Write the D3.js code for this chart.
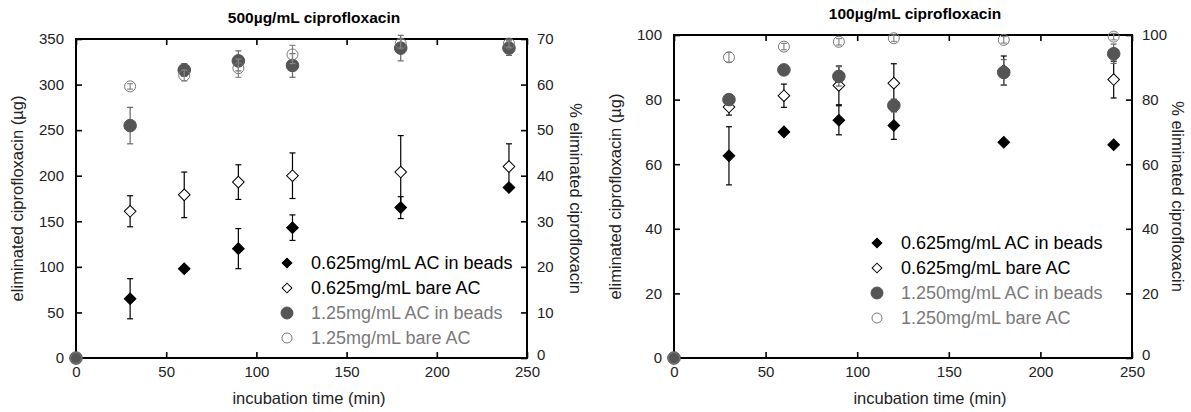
<!DOCTYPE html>
<html>
<head>
<meta charset="utf-8">
<script src="https://cdn.jsdelivr.net/npm/d3@7"></script>
<style>
  body { margin: 0; background: #fff; }
  text { font-family: "Liberation Sans", Arial, sans-serif; }
</style>
</head>
<body>
<svg width="1191" height="412"></svg>
<script>
// Sampling times (min)
const times = [0, 30, 60, 90, 120, 180, 240];
const xTicks = [0, 50, 100, 150, 200, 250];

// 500 µg/mL ciprofloxacin (eliminated, µg)
const beads625_500 = [0, 65, 98, 120, 143, 165, 187];
const beads625_500Err = [0, 22, 2, 22, 14, 12, 3];
const bare625_500 = [0, 161, 179, 193, 200, 204, 210];
const bare625_500Err = [0, 17, 25, 19, 25, 40, 25];
const beads125_500 = [0, 255, 316, 326, 321, 340, 340];
const beads125_500Err = [0, 20, 7, 11, 13, 14, 8];
const bare125_500 = [0, 298, 310, 318, 333, 345, 345];
const bare125_500Err = [0, 3, 6, 10, 10, 5, 4];
const yTicks500 = [0, 50, 100, 150, 200, 250, 300, 350];
const pctTicks500 = [0, 10, 20, 30, 40, 50, 60, 70];

// 100 µg/mL ciprofloxacin (eliminated, µg)
const beads625_100 = [0, 62.6, 70, 73.6, 72, 66.8, 66];
const beads625_100Err = [0, 9, 0.5, 4.5, 4.3, 0.5, 0.5];
const bare625_100 = [0, 77.7, 81.2, 84.4, 85.1, 89, 86.2];
const bare625_100Err = [0, 2.5, 3.6, 6, 6, 4.5, 5.7];
const beads125_100 = [0, 80, 89.2, 87.2, 78.2, 88.4, 94.2];
const beads125_100Err = [0, 1, 0.5, 3, 2, 4, 3];
const bare125_100 = [0, 93.1, 96.4, 97.9, 99, 98.5, 99.5];
const bare125_100Err = [0, 1.5, 1, 1, 1, 1, 1];
const yTicks100 = [0, 20, 40, 60, 80, 100];
const pctTicks100 = [0, 20, 40, 60, 80, 100];

const labels500 = ["0.625mg/mL AC in beads", "0.625mg/mL bare AC", "1.25mg/mL AC in beads", "1.25mg/mL bare AC"];
const labels100 = ["0.625mg/mL AC in beads", "0.625mg/mL bare AC", "1.250mg/mL AC in beads", "1.250mg/mL bare AC"];

// marker styles: filled diamond, open diamond, filled circle, open circle
const styles = [
    {shape: "diamond", fill: "#000", stroke: "#000", err: "#000", text: "#000"},
    {shape: "diamond", fill: "#fff", stroke: "#000", err: "#000", text: "#000"},
    {shape: "circle", fill: "#555", stroke: "#555", err: "#666", text: "#7a7a7a"},
    {shape: "circle", fill: "none", stroke: "#777", err: "#888", text: "#7a7a7a"}
];

const svg = d3.select("svg");

function marker(sel, st, big) {
    if (st.shape == "diamond") {
        sel.append("path")
           .attr("d", d3.symbol(d3.symbolSquare, big ? 68 : 48)())
           .attr("transform", "rotate(45)")
           .attr("fill", st.fill)
           .attr("stroke", st.stroke)
           .attr("stroke-width", 1);
    } else {
        sel.append("circle")
           .attr("r", st.fill == "none" ? (big ? 5.5 : 5) : (big ? 6.3 : 6))
           .attr("fill", st.fill)
           .attr("stroke", st.stroke)
           .attr("stroke-width", 1);
    }
}

function drawPanel(p) {
    const x = d3.scaleLinear().domain([0, 250]).range([p.left, p.right]);
    const y = d3.scaleLinear().domain([0, p.yMax]).range([p.bottom, p.top]);
    const y2 = d3.scaleLinear().domain([0, p.pctMax]).range([p.bottom, p.top]);
    const g = svg.append("g");

    // axes with inside ticks
    const ax = (sel) => sel.call(s => s.select(".domain").remove())
                           .call(s => s.selectAll("line").attr("stroke", "#000").attr("stroke-width", 1.6))
                           .call(s => s.selectAll("text").attr("fill", "#222").style("font-size", "15px")
                                       .style("font-family", "'Liberation Sans', Arial, sans-serif"));
    g.append("g").attr("transform", `translate(0,${p.bottom})`)
     .call(d3.axisBottom(x).tickValues(xTicks).tickSizeInner(-6).tickSizeOuter(0).tickPadding(8)).call(ax);
    g.append("g").attr("transform", `translate(0,${p.top})`)
     .call(d3.axisTop(x).tickValues(xTicks).tickSizeInner(-6).tickSizeOuter(0).tickFormat("")).call(ax);
    g.append("g").attr("transform", `translate(${p.left},0)`)
     .call(d3.axisLeft(y).tickValues(p.yTicks).tickSizeInner(-6).tickSizeOuter(0).tickPadding(12)).call(ax);
    g.append("g").attr("transform", `translate(${p.right},0)`)
     .call(d3.axisRight(y2).tickValues(p.pctTicks).tickSizeInner(-6).tickSizeOuter(0).tickPadding(10)).call(ax)
     .call(s => s.selectAll("text").attr("dy", d => d == 0 ? "0.1em" : "0.32em"));

    g.append("rect")
     .attr("x", p.left).attr("y", p.top)
     .attr("width", p.right - p.left).attr("height", p.bottom - p.top)
     .attr("fill", "none").attr("stroke", "#000").attr("stroke-width", 2);

    // series: error bars then markers
    p.series.forEach((s, i) => {
        const st = styles[i];
        const pts = times.map((t, j) => ({t: t, v: s.values[j], e: s.errors[j]}));
        const sg = g.append("g");
        const eb = sg.selectAll("g.err").data(pts.filter(d => d.e > 0.6)).join("g")
                     .attr("stroke", st.err).attr("stroke-width", 1.2);
        eb.append("line")
          .attr("x1", d => x(d.t)).attr("x2", d => x(d.t))
          .attr("y1", d => y(d.v - d.e)).attr("y2", d => y(d.v + d.e));
        eb.append("line")
          .attr("x1", d => x(d.t) - 3).attr("x2", d => x(d.t) + 3)
          .attr("y1", d => y(d.v - d.e)).attr("y2", d => y(d.v - d.e));
        eb.append("line")
          .attr("x1", d => x(d.t) - 3).attr("x2", d => x(d.t) + 3)
          .attr("y1", d => y(d.v + d.e)).attr("y2", d => y(d.v + d.e));
        sg.selectAll("g.pt").data(pts).join("g")
          .attr("transform", d => `translate(${x(d.t)},${y(d.v)})`)
          .each(function() { marker(d3.select(this), st, true); });
    });

    // legend
    const lg = g.append("g").attr("transform", `translate(${p.legendX},${p.legendY})`);
    p.labels.forEach((lab, i) => {
        const row = lg.append("g").attr("transform", `translate(0,${i * 25})`);
        marker(row, styles[i], false);
        row.append("text").attr("x", 24).attr("dy", "0.35em")
           .style("font-size", "18px").attr("fill", styles[i].text).text(lab);
    });

    // titles and axis labels
    g.append("text").attr("x", p.titleX).attr("y", p.titleY).attr("text-anchor", "middle")
     .style("font-size", "15.5px").style("font-weight", "bold").text(p.title);
    g.append("text").attr("x", p.xLabelX).attr("y", 404).attr("text-anchor", "middle")
     .style("font-size", "16.5px").attr("fill", "#222").text("incubation time (min)");
    g.append("text").attr("transform", `translate(${p.yLabelX},${(p.top + p.bottom) / 2}) rotate(-90)`)
     .attr("text-anchor", "middle").attr("dy", "0.35em")
     .style("font-size", "16.5px").attr("fill", "#222").text("eliminated ciprofloxacin (µg)");
    g.append("text").attr("transform", `translate(${p.y2LabelX},${(p.top + p.bottom) / 2}) rotate(90)`)
     .attr("text-anchor", "middle").attr("dy", "0.35em")
     .style("font-size", "16.5px").attr("fill", "#222").text("% eliminated ciprofloxacin");
}

drawPanel({
    left: 76, right: 527, top: 39, bottom: 358,
    yMax: 350, pctMax: 70, yTicks: yTicks500, pctTicks: pctTicks500,
    series: [
        {values: beads625_500, errors: beads625_500Err},
        {values: bare625_500, errors: bare625_500Err},
        {values: beads125_500, errors: beads125_500Err},
        {values: bare125_500, errors: bare125_500Err}
    ],
    labels: labels500, legendX: 287, legendY: 263,
    title: "500µg/mL ciprofloxacin", titleX: 314, titleY: 23,
    xLabelX: 309, yLabelX: 17, y2LabelX: 576
});

drawPanel({
    left: 674, right: 1132, top: 35, bottom: 358,
    yMax: 100, pctMax: 100, yTicks: yTicks100, pctTicks: pctTicks100,
    series: [
        {values: beads625_100, errors: beads625_100Err},
        {values: bare625_100, errors: bare625_100Err},
        {values: beads125_100, errors: beads125_100Err},
        {values: bare125_100, errors: bare125_100Err}
    ],
    labels: labels100, legendX: 877, legendY: 243,
    title: "100µg/mL ciprofloxacin", titleX: 915, titleY: 19,
    xLabelX: 930, yLabelX: 615, y2LabelX: 1178
});
</script>
</body>
</html>
